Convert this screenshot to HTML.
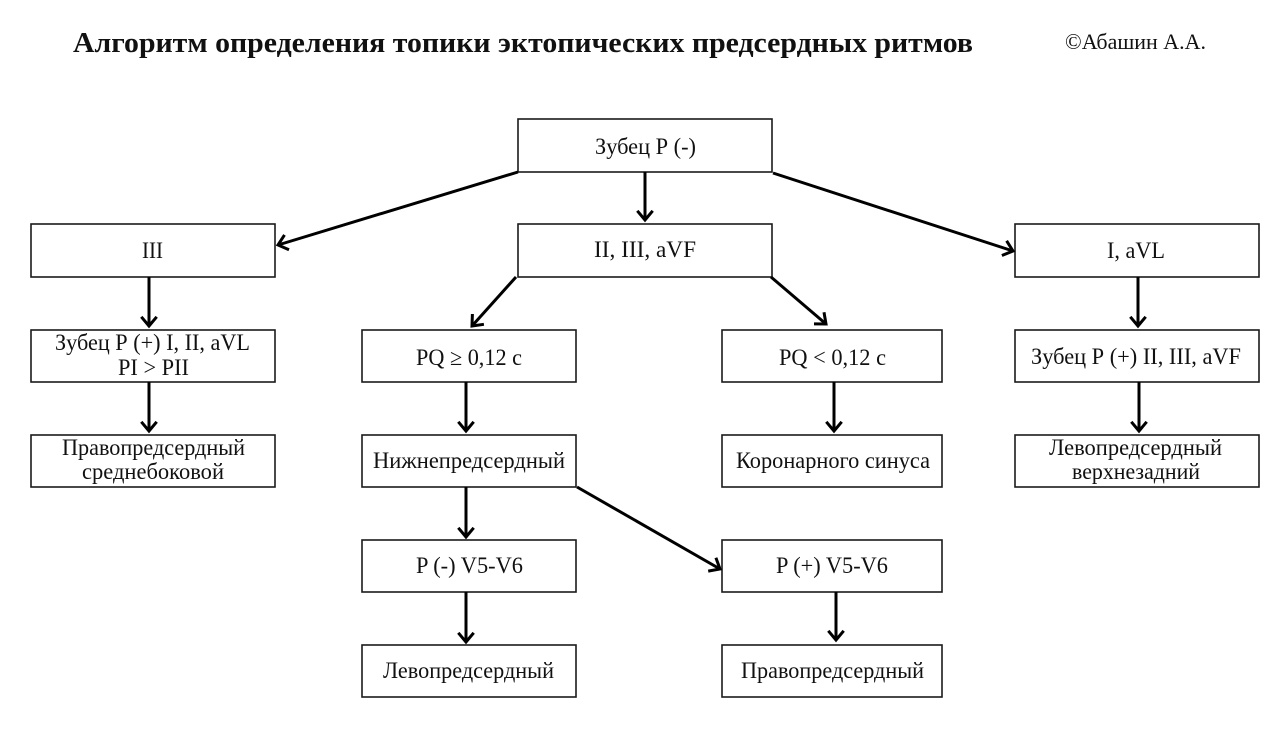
<!DOCTYPE html>
<html>
<head>
<meta charset="utf-8">
<style>
html,body{margin:0;padding:0;background:#fff;}
svg{display:block;}
text{font-family:"Liberation Serif","DejaVu Serif",serif;fill:#111;}
.t{font-size:23px;}
</style>
</head>
<body>
<svg width="1280" height="729" viewBox="0 0 1280 729" xmlns="http://www.w3.org/2000/svg">
<rect x="0" y="0" width="1280" height="729" fill="#fff"/>

<text x="73" y="52" font-size="29" font-weight="bold" textLength="900" lengthAdjust="spacingAndGlyphs">Алгоритм определения топики эктопических предсердных ритмов</text>
<text x="1065" y="49" font-size="22" textLength="141" lengthAdjust="spacingAndGlyphs">©Абашин А.А.</text>

<g fill="none" stroke="#1a1a1a" stroke-width="1.6">
<rect x="518" y="119" width="254" height="53"/>
<rect x="31" y="224" width="244" height="53"/>
<rect x="518" y="224" width="254" height="53"/>
<rect x="1015" y="224" width="244" height="53"/>
<rect x="31" y="330" width="244" height="52"/>
<rect x="362" y="330" width="214" height="52"/>
<rect x="722" y="330" width="220" height="52"/>
<rect x="1015" y="330" width="244" height="52"/>
<rect x="31" y="435" width="244" height="52"/>
<rect x="362" y="435" width="214" height="52"/>
<rect x="722" y="435" width="220" height="52"/>
<rect x="1015" y="435" width="244" height="52"/>
<rect x="362" y="540" width="214" height="52"/>
<rect x="722" y="540" width="220" height="52"/>
<rect x="362" y="645" width="214" height="52"/>
<rect x="722" y="645" width="220" height="52"/>
</g>

<g fill="none" stroke="#000" stroke-width="3" stroke-linejoin="miter">
<line x1="645" y1="172" x2="645" y2="220"/><polyline points="637.3,210.8 645,220 652.7,210.8"/>
<line x1="149" y1="277" x2="149" y2="326"/><polyline points="141.3,316.8 149,326 156.7,316.8"/>
<line x1="1138" y1="277" x2="1138" y2="326"/><polyline points="1130.3,316.8 1138,326 1145.7,316.8"/>
<line x1="149" y1="382" x2="149" y2="431"/><polyline points="141.3,421.8 149,431 156.7,421.8"/>
<line x1="466" y1="382" x2="466" y2="431"/><polyline points="458.3,421.8 466,431 473.7,421.8"/>
<line x1="834" y1="382" x2="834" y2="431"/><polyline points="826.3,421.8 834,431 841.7,421.8"/>
<line x1="1139" y1="382" x2="1139" y2="431"/><polyline points="1131.3,421.8 1139,431 1146.7,421.8"/>
<line x1="466" y1="487" x2="466" y2="537"/><polyline points="458.3,527.8 466,537 473.7,527.8"/>
<line x1="466" y1="592" x2="466" y2="642"/><polyline points="458.3,632.8 466,642 473.7,632.8"/>
<line x1="836" y1="592" x2="836" y2="640"/><polyline points="828.3,630.8 836,640 843.7,630.8"/>
<line x1="518" y1="172" x2="278" y2="245"/><polyline points="284.5,234.9 278,245 289,249.7"/>
<line x1="773" y1="173" x2="1013" y2="251"/><polyline points="1006.6,240.8 1013,251 1001.9,255.5"/>
<line x1="516" y1="277" x2="472" y2="326"/><polyline points="472.4,314 472,326 483.9,324.3"/>
<line x1="771" y1="277" x2="826" y2="324"/><polyline points="824,312.2 826,324 814,323.9"/>
<line x1="577" y1="487" x2="720" y2="569"/><polyline points="715.9,557.7 720,569 708.2,571.1"/>
</g>

<g class="t">
<text x="595" y="154" textLength="101" lengthAdjust="spacingAndGlyphs">Зубец Р (-)</text>
<text x="142" y="258" textLength="21" lengthAdjust="spacingAndGlyphs">III</text>
<text x="594" y="257" textLength="102" lengthAdjust="spacingAndGlyphs">II, III, aVF</text>
<text x="1107" y="258" textLength="58" lengthAdjust="spacingAndGlyphs">I, aVL</text>
<text x="55" y="350" textLength="195" lengthAdjust="spacingAndGlyphs">Зубец Р (+) I, II, aVL</text>
<text x="118" y="375" textLength="71" lengthAdjust="spacingAndGlyphs">PI &gt; PII</text>
<text x="416" y="365" textLength="106" lengthAdjust="spacingAndGlyphs">PQ ≥ 0,12 с</text>
<text x="779" y="365" textLength="107" lengthAdjust="spacingAndGlyphs">PQ &lt; 0,12 с</text>
<text x="1031" y="364" textLength="210" lengthAdjust="spacingAndGlyphs">Зубец Р (+) II, III, aVF</text>
<text x="62" y="455" textLength="183" lengthAdjust="spacingAndGlyphs">Правопредсердный</text>
<text x="82" y="479" textLength="142" lengthAdjust="spacingAndGlyphs">среднебоковой</text>
<text x="373" y="468" textLength="192" lengthAdjust="spacingAndGlyphs">Нижнепредсердный</text>
<text x="736" y="468" textLength="194" lengthAdjust="spacingAndGlyphs">Коронарного синуса</text>
<text x="1049" y="455" textLength="173" lengthAdjust="spacingAndGlyphs">Левопредсердный</text>
<text x="1072" y="479" textLength="128" lengthAdjust="spacingAndGlyphs">верхнезадний</text>
<text x="416" y="573" textLength="107" lengthAdjust="spacingAndGlyphs">P (-) V5-V6</text>
<text x="776" y="573" textLength="112" lengthAdjust="spacingAndGlyphs">P (+) V5-V6</text>
<text x="383" y="678" textLength="171" lengthAdjust="spacingAndGlyphs">Левопредсердный</text>
<text x="741" y="678" textLength="183" lengthAdjust="spacingAndGlyphs">Правопредсердный</text>
</g>
</svg>
</body>
</html>
